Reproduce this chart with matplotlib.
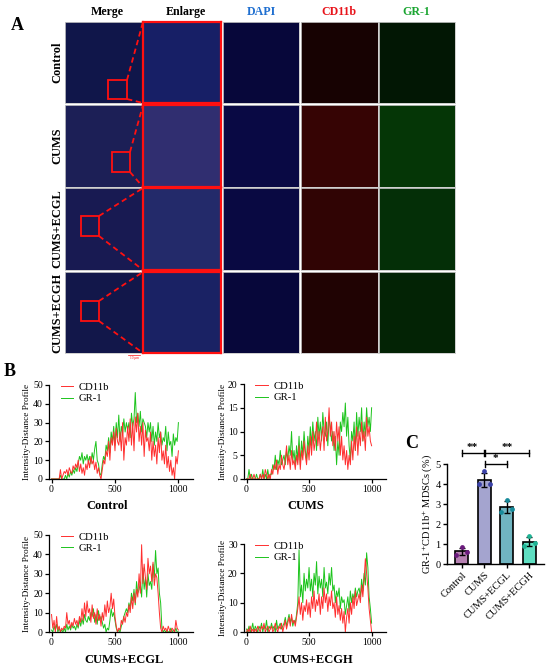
import numpy as np
import matplotlib
matplotlib.use("Agg")
import matplotlib.pyplot as plt
from matplotlib.patches import Rectangle

plt.rcParams['font.family'] = ['Liberation Serif', 'DejaVu Serif']
plt.rcParams['mathtext.fontset'] = 'stix'

# ---------------- data ----------------
col_titles = ["Merge", "Enlarge", "DAPI", "CD11b", "GR-1"]
col_colors = ["black", "black", "#1f6fd0", "#e8141b", "#1aa531"]
row_titles = ["Control", "CUMS", "CUMS+ECGL", "CUMS+ECGH"]

distance = list(range(0, 1001, 10))

ctrl_cd11b = [0,0,0,0,0,0,0,5,0,2, 4,3,5,2,6,4,3,7,5,8, 6,10,4,8,3,6,2,8,5,10,
              6,12,8,10,5,9,3,6,2,0, 5,10,8,15,12,20,10,22,18,25, 15,27,20,18,25,15,30,10,22,18,
              28,20,32,18,30,15,33,25,35,20, 28,18,30,12,26,20,22,15,25,10,
              20,12,18,8,22,14,25,10,15,8, 18,6,12,4,10,2,6,0,12,8, 15]
ctrl_gr1 = [0,0,0,0,0,0,0,2,0,0, 0,2,0,3,1,4,2,5,3,6, 4,8,12,10,14,8,12,10,13,9,
            12,8,14,10,16,20,10,8,3,2, 8,12,10,18,15,22,14,25,20,28, 18,30,22,34,20,28,24,32,25,30,
            26,30,22,35,28,32,46,30,35,28, 36,25,32,30,28,22,30,25,30,20,
            28,18,25,20,30,22,25,18,22,20, 28,15,25,18,20,12,24,18,22,20, 30]

cums_cd11b = [0,0,0,1,0,0,1,0,0,0, 0,1,0,1,0,2,1,0,1,0, 2,1,3,2,4,1,3,2,5,3,
              2,4,7,3,5,2,6,3,4,2, 5,3,7,2,6,4,8,5,3,7, 4,9,5,10,6,8,12,7,10,6,
              9,11,6,13,8,10,15,9,12,7, 10,6,12,8,11,5,9,4,7,3,
              6,2,5,3,8,4,9,6,11,5, 10,7,12,8,10,6,13,9,11,8, 7]
cums_gr1 = [0,0,2,0,1,0,0,0,1,0, 0,1,0,2,0,1,0,2,0,1, 1,3,2,5,2,4,3,6,3,4,
            5,3,6,4,7,5,10,4,6,3, 7,4,9,3,8,5,10,6,4,9, 6,11,7,12,8,10,6,13,9,12,
            8,14,10,9,12,7,13,11,8,10, 6,9,3,8,5,12,10,14,11,16,
            9,13,7,4,10,8,12,6,14,9, 13,10,15,8,12,9,15,11,13,10, 15]

ecgl_cd11b = [9,2,6,0,8,1,3,0,2,1, 3,2,10,4,6,2,5,3,7,4, 6,3,8,5,12,6,15,8,16,10,
              12,5,14,7,10,4,12,6,9,3, 10,6,14,8,16,10,13,20,12,17, 8,3,0,2,1,6,4,8,5,10,
              8,14,10,18,12,20,15,22,18,30, 20,45,25,35,28,22,38,30,34,26,
              36,24,30,28,20,10,2,0,3,1, 2,0,3,1,0,2,1,0,6,2, 1]
ecgl_gr1 = [1,0,3,1,4,0,2,0,1,0, 2,0,4,1,3,1,4,2,3,1, 4,2,6,3,7,4,9,6,5,8,
            6,10,8,12,5,9,4,11,6,8, 5,2,4,0,2,1,6,12,8,10, 6,2,0,1,0,3,5,8,10,12,
            10,15,12,20,16,22,14,26,20,22, 25,18,33,22,28,18,30,24,26,22,
            35,28,42,30,33,20,15,2,0,1, 0,1,0,0,2,0,1,0,2,0, 0]

ecgh_cd11b = [0,1,0,2,0,1,0,1,0,2, 1,0,2,1,3,0,1,2,0,1, 2,0,1,3,1,0,2,1,3,0,
              2,4,1,3,5,2,6,3,4,2, 5,8,12,6,10,4,9,7,11,6, 10,5,12,8,14,7,11,9,13,6,
              12,8,15,10,13,7,12,9,14,8, 10,5,12,6,9,4,8,3,7,0,
              5,8,3,10,6,12,8,14,9,11, 13,10,16,12,18,25,20,15,8,4, 0]
ecgh_gr1 = [1,0,2,0,1,3,0,2,1,0, 2,1,3,0,2,1,4,0,2,1, 3,1,2,0,4,1,2,3,1,2,
            3,5,2,4,6,3,5,2,4,3, 6,10,28,12,16,10,20,14,18,15, 22,14,18,12,20,16,24,13,19,15,
            18,12,22,15,17,13,20,16,22,14, 16,10,14,12,15,8,12,10,11,6,
            9,12,7,14,10,13,11,15,12,14, 15,12,18,14,20,16,27,22,12,8, 3]

profile_titles = ["Control", "CUMS", "CUMS+ECGL", "CUMS+ECGH"]
profile_cd11b = [ctrl_cd11b, cums_cd11b, ecgl_cd11b, ecgh_cd11b]
profile_gr1 = [ctrl_gr1, cums_gr1, ecgl_gr1, ecgh_gr1]
profile_ymax = [50, 20, 50, 30]
profile_yticks = [[0, 10, 20, 30, 40, 50], [0, 5, 10, 15, 20],
                  [0, 10, 20, 30, 40, 50], [0, 10, 20, 30]]

groups = ["Control", "CUMS", "CUMS+ECGL", "CUMS+ECGH"]
mdsc_mean = [0.63, 4.21, 2.85, 1.12]
mdsc_sd = [0.19, 0.36, 0.29, 0.24]
mdsc_points = [[0.47, 0.83, 0.58], [4.0, 4.63, 4.0], [2.62, 3.18, 2.75], [0.92, 1.38, 1.05]]
bar_colors = ["#b681b2", "#a4a4cf", "#70b5c1", "#5fdfc2"]
point_colors = ["#6a1a7c", "#3b42a8", "#178a9a", "#1fb394"]

# ---------------- layout helpers ----------------
W, H = 550, 672
fig = plt.figure(figsize=(W / 100, H / 100), dpi=100)


def rect(l, t, r, b):
    return [l / W, 1 - b / H, (r - l) / W, (b - t) / H]


# ---------------- Panel A ----------------
col_px = [(65, 142), (143, 221), (223, 299), (301, 378), (379, 455)]
row_px = [(22, 103), (105, 187), (188, 270), (272, 353)]
cell_colors = [
    ["#10164a", "#171f66", "#07073a", "#170202", "#021704"],
    ["#1c1f56", "#302e70", "#090944", "#360404", "#053606"],
    ["#181a52", "#232a6a", "#090942", "#300404", "#042f07"],
    ["#12174a", "#1a2264", "#07073a", "#200303", "#032305"],
]
for ri, (t, b) in enumerate(row_px):
    for ci, (l, r) in enumerate(col_px):
        ax = fig.add_axes(rect(l, t, r, b))
        ax.set_facecolor(cell_colors[ri][ci])
        ax.set_xticks([]); ax.set_yticks([])
        for s in ax.spines.values():
            if ci == 1:
                s.set_color("#ff1010"); s.set_linewidth(1.6)
            else:
                s.set_color("#c8c8c8"); s.set_linewidth(0.6)

ov = fig.add_axes([0, 0, 1, 1], zorder=10)
ov.set_xlim(0, W); ov.set_ylim(H, 0); ov.axis("off"); ov.patch.set_alpha(0)

for x, title, c in zip([107, 186, 261, 339, 416], col_titles, col_colors):
    ov.text(x, 12, title, ha="center", va="center", fontsize=8.6, fontweight="bold", color=c)
for (t, b), title in zip(row_px, row_titles):
    ov.text(57, (t + b) / 2, title, ha="center", va="center", rotation=90,
            fontsize=8.9, fontweight="bold")
ov.text(17, 26, "A", ha="center", va="center", fontsize=13, fontweight="bold")
ov.text(10, 371, "B", ha="center", va="center", fontsize=13, fontweight="bold")
ov.text(412, 443, "C", ha="center", va="center", fontsize=13, fontweight="bold")

zoom_boxes = [(108, 80, 127, 99), (112, 152, 130, 172), (81, 216, 99, 236), (81, 301, 99, 321)]
for (l, t, r, b), (rt, rb) in zip(zoom_boxes, row_px):
    ov.add_patch(Rectangle((l, t), r - l, b - t, fill=False, ec="#ff1010", lw=1.3))
    ov.plot([r, 143], [t, rt], color="#ff1010", lw=1.3, ls=(0, (3, 2)))
    ov.plot([r, 143], [b, rb], color="#ff1010", lw=1.3, ls=(0, (3, 2)))
ov.plot([128, 140], [355, 355], color="#ff1010", lw=0.5)
ov.text(134, 358, "10 μm", ha="center", va="center", fontsize=2.5, color="#ff1010")

# ---------------- Panel B ----------------
prof_rects = [(49, 385, 193, 479), (244, 384, 386, 479), (49, 535, 193, 632), (244, 544, 386, 632)]
xlabel_pos = [(107, 506), (306, 506), (124, 660), (313, 660)]
for i in range(4):
    l, t, r, b = prof_rects[i]
    ax = fig.add_axes(rect(l, t, r, b))
    ax.plot(distance, profile_gr1[i], color="#1cc41c", lw=0.7, label="GR-1")
    ax.plot(distance, profile_cd11b[i], color="#ff2f2f", lw=0.7, label="CD11b")
    ax.set_xlim(-20, 1115)
    ax.set_ylim(0, profile_ymax[i])
    ax.set_xticks([0, 500, 1000])
    ax.set_yticks(profile_yticks[i])
    for s in ["top", "right"]:
        ax.spines[s].set_visible(False)
    for s in ["left", "bottom"]:
        ax.spines[s].set_linewidth(0.9)
    ax.tick_params(labelsize=7, length=3, width=0.9, pad=1.5)
    ax.set_ylabel("Intensity-Distance Profile", fontsize=6.7, labelpad=1)
    h, lab = ax.get_legend_handles_labels()
    ax.legend(h[::-1], lab[::-1], loc="upper left", bbox_to_anchor=(0.08, 1.03),
              frameon=False, fontsize=7.7, handlelength=1.2, handletextpad=0.5,
              labelspacing=0.2, borderaxespad=0, borderpad=0)
    ov.text(xlabel_pos[i][0], xlabel_pos[i][1], profile_titles[i], ha="center", va="center",
            fontsize=9, fontweight="bold")

# ---------------- Panel C ----------------
axc = fig.add_axes(rect(447, 464, 544, 564))
xpos = np.arange(len(groups))
axc.bar(xpos, mdsc_mean, width=0.58, color=bar_colors, edgecolor="black", linewidth=1.2, zorder=2)
axc.errorbar(xpos, mdsc_mean, yerr=mdsc_sd, fmt="none", ecolor="black", elinewidth=1,
             capsize=2.2, capthick=1, zorder=3)
offsets = [-0.25, 0.0, 0.25]
for i in range(len(groups)):
    axc.scatter([xpos[i] + o for o in offsets], mdsc_points[i], s=12, color=point_colors[i],
                marker="o", zorder=4, linewidths=0)
axc.set_xlim(-0.65, 3.65)
axc.set_ylim(0, 5)
axc.set_yticks([0, 1, 2, 3, 4, 5])
axc.set_xticks(xpos)
axc.set_xticklabels(groups, rotation=45, ha="right", rotation_mode="anchor")
for s in ["top", "right"]:
    axc.spines[s].set_visible(False)
for s in ["left", "bottom"]:
    axc.spines[s].set_linewidth(1.0)
axc.tick_params(labelsize=7.5, length=3, width=1, pad=1.5)
axc.set_ylabel("GR-1$^{+}$CD11b$^{+}$ MDSCs (%)", fontsize=7.5, labelpad=1)

brackets = [(0.0, 0.97, 5.55, "**"), (1.03, 3.0, 5.55, "**"), (1.03, 2.0, 5.0, "*")]
for x0, x1, y, txt in brackets:
    axc.plot([x0, x1], [y, y], color="black", lw=1, clip_on=False)
    axc.plot([x0, x0], [y - 0.17, y + 0.17], color="black", lw=1, clip_on=False)
    axc.plot([x1, x1], [y - 0.17, y + 0.17], color="black", lw=1, clip_on=False)
    axc.text((x0 + x1) / 2, y + 0.05, txt, ha="center", va="bottom", fontsize=8,
             fontweight="bold", clip_on=False)

fig.savefig("out.png", dpi=100)
